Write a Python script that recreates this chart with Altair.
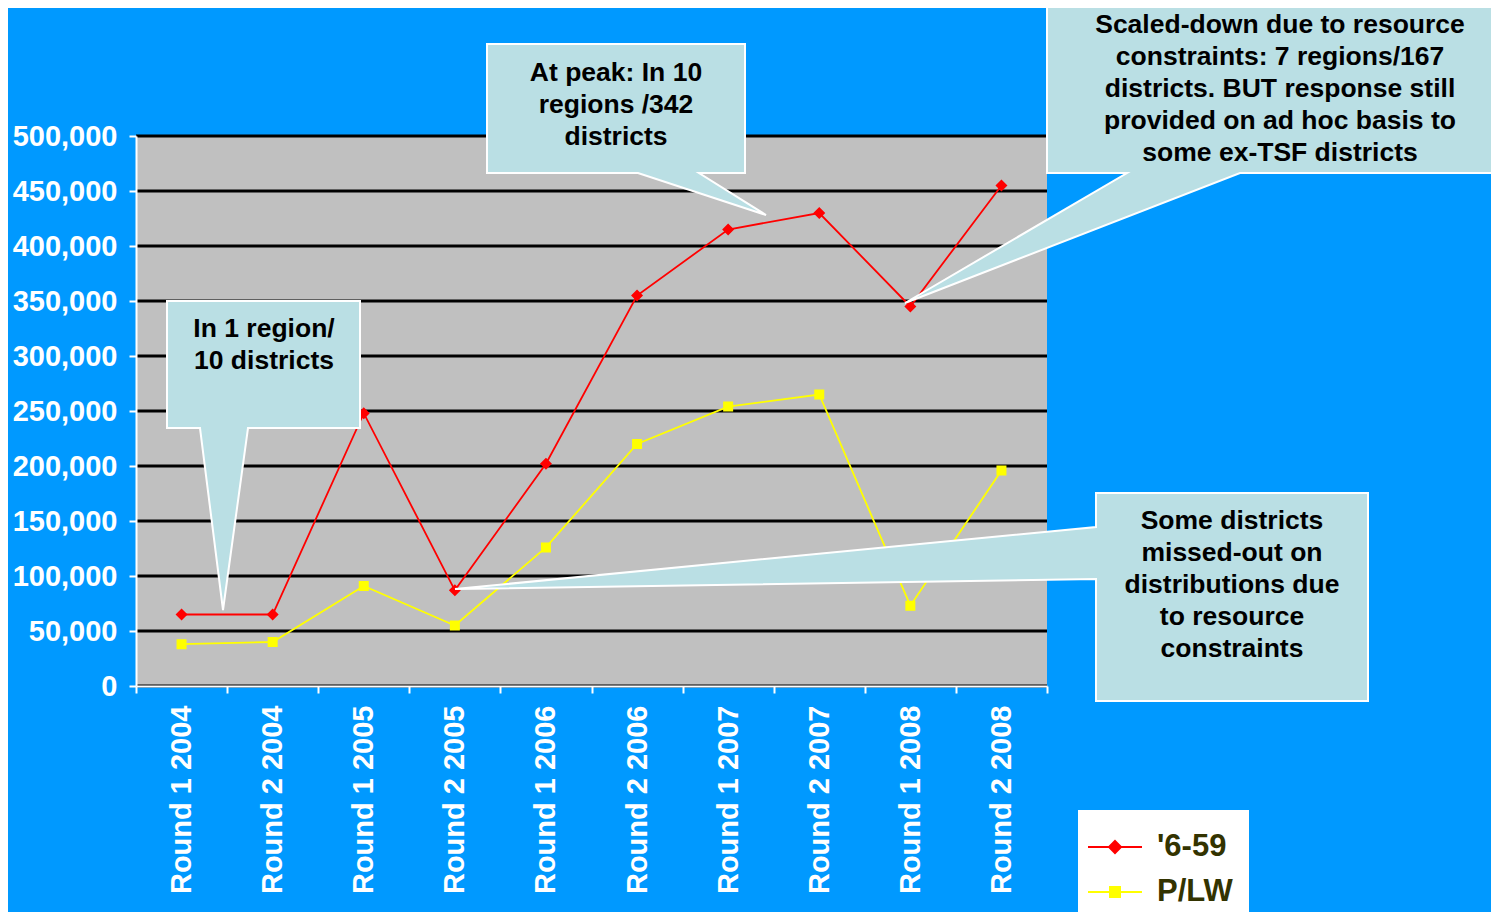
import altair as alt
import pandas as pd

# ---------------- data ----------------
categories = [
    "Round 1 2004", "Round 2 2004", "Round 1 2005", "Round 2 2005",
    "Round 1 2006", "Round 2 2006", "Round 1 2007", "Round 2 2007",
    "Round 1 2008", "Round 2 2008",
]
series_names = ["'6-59", "P/LW"]
values_659 = [65000, 65000, 248000, 87000, 202000, 355000, 415000, 430000, 345000, 455000]
values_plw = [38000, 40000, 91000, 55000, 126000, 220000, 254000, 265000, 73000, 196000]
y_tick_values = [0, 50000, 100000, 150000, 200000, 250000, 300000, 350000, 400000, 450000, 500000]

note_single = "In 1 region/\n10 districts"
note_peak = "At peak: In 10\nregions /342\ndistricts"
note_scaled = ("Scaled-down due to resource\nconstraints: 7 regions/167\n"
               "districts. BUT response still\nprovided on ad hoc basis to\nsome ex-TSF districts")
note_missed = "Some districts\nmissed-out on\ndistributions due\nto resource\nconstraints"

# ---------------- styles / layout ----------------
FONT = "Liberation Sans"
BG = "#0099FF"
PLOT_BG = "#C0C0C0"
CALLOUT_FILL = "#BADFE4"
series_colors = ["#FF0000", "#FFFF00"]
# marker symbols: a horizontal legend line plus the marker (line only shows when stroked)
DIAMOND_PATH = "M-1.35,0H1.35M0,-0.3L0.3,0L0,0.3L-0.3,0Z"
SQUARE_PATH = "M-1.35,0H1.35M-0.25,-0.25H0.25V0.25H-0.25Z"
series_shapes = [DIAMOND_PATH, SQUARE_PATH]

PLOT_W, PLOT_H = 911, 550
PAD_L, PAD_T = 128, 128
TOTAL_W, TOTAL_H = 1483, 904
OX, OY = 136, 136  # plot origin in page pixels

# callout outlines (page pixel layout of the annotation balloons)
callout_outlines = [
    [(167, 301), (360, 301), (360, 428), (248, 428), (223, 610), (200, 428), (167, 428)],
    [(487, 44), (745, 44), (745, 173), (699, 173), (766, 215), (638, 173), (487, 173)],
    [(1047, -20), (1530, -20), (1530, 173), (1240, 173), (905, 303), (1127, 173), (1047, 173)],
    [(1096, 493), (1368, 493), (1368, 701), (1096, 701), (1096, 579), (455, 589), (1096, 527)],
]
# centre of the first text line of each balloon
callout_text_pos = [(264, 329), (616, 73), (1280, 25), (1232, 521)]
callout_texts = [note_single, note_peak, note_scaled, note_missed]

# ---------------- table ----------------
rows = []
for name, vals in zip(series_names, [values_659, values_plw]):
    for cat, v in zip(categories, vals):
        rows.append({"round": cat, "series": name, "value": v})
df = pd.DataFrame(rows)

x_enc = alt.X(
    "round:N", sort=categories,
    scale=alt.Scale(type="band", paddingInner=0, paddingOuter=0),
    axis=alt.Axis(
        title=None, labelAngle=270, tickBand="extent", grid=False,
        labelFont=FONT, labelFontSize=29, labelFontWeight="bold", labelColor="white",
        labelLimit=400, domainColor="white", domainWidth=2, tickColor="white", tickWidth=2,
        tickSize=7, labelPadding=12, zindex=1,
    ),
)
y_enc = alt.Y(
    "value:Q",
    scale=alt.Scale(domain=[0, 500000], nice=False),
    axis=alt.Axis(
        title=None, values=y_tick_values, format=",.0f", grid=False,
        labelFont=FONT, labelFontSize=29, labelFontWeight="bold", labelColor="white",
        labelLimit=400, domainColor="white", domainWidth=2, tickColor="white", tickWidth=2,
        tickSize=7, labelPadding=12, zindex=1,
    ),
)

legend = alt.Legend(
    title=None, orient="none", legendX=1078 - OX, legendY=810 - OY, direction="vertical",
    fillColor="white", padding=16, labelFont=FONT, labelFontSize=31, labelFontWeight="bold",
    labelColor="#333300", symbolSize=1600, symbolStrokeWidth=2, rowPadding=9, labelOffset=21,
    labelLimit=400, symbolOpacity=1,
)
color_scale = alt.Scale(domain=series_names, range=series_colors)
stroke_enc = alt.Stroke("series:N", scale=color_scale, legend=legend)
fill_enc = alt.Fill("series:N", scale=color_scale, legend=legend)
shape_enc = alt.Shape("series:N", scale=alt.Scale(domain=series_names, range=series_shapes), legend=legend)

# plot-area background
plot_bg = alt.Chart(pd.DataFrame({"k": [0]})).mark_rect(color=PLOT_BG).encode(
    x=alt.value(0), x2=alt.value(PLOT_W), y=alt.value(0), y2=alt.value(PLOT_H)
)
# horizontal grid lines at the y ticks
grid = alt.Chart(pd.DataFrame({"value": y_tick_values})).mark_rule(color="black", strokeWidth=3).encode(
    y=alt.Y("value:Q")
)

base = alt.Chart(df)
lines = base.mark_line(strokeWidth=1.8).encode(x=x_enc, y=y_enc, stroke=stroke_enc, detail="series:N")
points = base.mark_point(filled=True, size=1600, opacity=1, strokeWidth=0).encode(
    x=x_enc, y=y_enc, fill=fill_enc, stroke=stroke_enc, shape=shape_enc,
)

features = []
for outline in callout_outlines:
    ring = [[px - OX, py - OY] for px, py in outline]
    ring.append(ring[0])
    features.append({"type": "Feature", "properties": {}, "geometry": {"type": "Polygon", "coordinates": [ring]}})

callouts = alt.Chart(alt.Data(values=features)).mark_geoshape(
    fill=CALLOUT_FILL, stroke="white", strokeWidth=2, clip=False
).project(type="identity", scale=1, translate=[0, 0], clipExtent=[[-500, -500], [2500, 2500]])

text_layers = []
for txt, (cx, cy) in zip(callout_texts, callout_text_pos):
    text_layers.append(
        alt.Chart(pd.DataFrame({"note": [txt]})).mark_text(
            lineBreak="\n", align="center", baseline="middle", font=FONT, fontSize=26.5,
            fontWeight="bold", color="black", lineHeight=32,
        ).encode(text="note:N", x=alt.value(cx - OX), y=alt.value(cy - OY))
    )

chart = alt.layer(plot_bg, grid, lines, points, callouts, *text_layers).properties(
    width=PLOT_W, height=PLOT_H,
    padding={"left": PAD_L, "top": PAD_T, "right": TOTAL_W - PAD_L - PLOT_W, "bottom": TOTAL_H - PAD_T - PLOT_H},
    autosize=alt.AutoSizeParams(type="none"),
    background=BG,
).configure_view(fill=PLOT_BG, stroke=None)

chart.save("out.html", embed_options={"renderer": "svg", "actions": False})
